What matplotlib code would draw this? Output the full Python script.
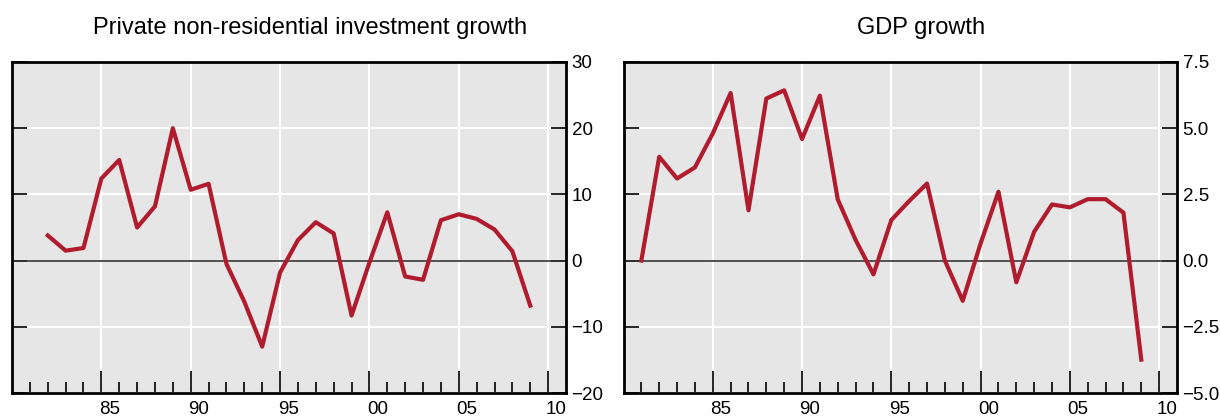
import matplotlib
matplotlib.use("Agg")
import matplotlib.pyplot as plt
from matplotlib.transforms import ScaledTranslation

plt.rcParams['font.family'] = ['Liberation Sans', 'DejaVu Sans']

# Data (annual growth, %)
inv_years = list(range(1982, 2010))
inv_growth = [3.8, 1.5, 1.9, 12.4, 15.2, 5.0, 8.2, 20.0, 10.7, 11.6,
              -0.5, -6.2, -13.0, -1.8, 3.1, 5.8, 4.1, -8.3, -0.3, 7.3,
              -2.4, -2.9, 6.1, 7.0, 6.3, 4.7, 1.4, -6.8]

gdp_years = list(range(1981, 2010))
gdp_growth = [0.0, 3.92, 3.1, 3.52, 4.8, 6.33, 1.9, 6.12, 6.43, 4.59,
              6.23, 2.31, 0.78, -0.52, 1.53, 2.25, 2.91, 0.0, -1.52, 0.65,
              2.6, -0.82, 1.09, 2.12, 2.01, 2.32, 2.32, 1.81, -3.74]

titles = ["Private non-residential investment growth", "GDP growth"]
major_years = [1985, 1990, 1995, 2000, 2005, 2010]
year_labels = ["85", "90", "95", "00", "05", "10"]
minor_years = list(range(1981, 2011))
inv_yticks = [-20, -10, 0, 10, 20, 30]
inv_ylabels = ["\u221220", "\u221210", "0", "10", "20", "30"]
gdp_yticks = [-5.0, -2.5, 0.0, 2.5, 5.0, 7.5]
gdp_ylabels = ["\u22125.0", "\u22122.5", "0.0", "2.5", "5.0", "7.5"]

LINE_COLOR = "#b01c2e"
BG = "#e6e6e6"


def style_panel(ax, yticks, ylabels):
    ax.set_facecolor(BG)
    ax.set_xlim(1980, 2011)
    ax.set_ylim(yticks[0], yticks[-1])
    for sp in ax.spines.values():
        sp.set_linewidth(2.0)
        sp.set_color("black")
    ax.set_xticks(major_years)
    ax.set_xticklabels(year_labels, fontsize=13.5)
    ax.set_xticks(minor_years, minor=True)
    ax.tick_params(axis="x", which="major", direction="in", length=16, width=1.2,
                   pad=6, top=False)
    ax.tick_params(axis="x", which="minor", direction="in", length=8, width=1.2,
                   top=False)
    # year labels sit in the middle of the year
    off = ScaledTranslation(8 / 100, 0, ax.figure.dpi_scale_trans)
    for lab in ax.get_xticklabels():
        lab.set_transform(lab.get_transform() + off)
    ax.set_yticks(yticks)
    ax.set_yticklabels(ylabels, fontsize=13.5)
    ax.tick_params(axis="y", direction="in", length=11, width=1.2, pad=4,
                   left=True, right=True, labelleft=False, labelright=True)
    ax.grid(True, which="major", color="white", linewidth=1.5)
    ax.set_axisbelow(True)
    ax.axhline(0, color="#333333", linewidth=1.2, zorder=2)


fig = plt.figure(figsize=(12.2, 4.2), dpi=100)
ax1 = fig.add_axes([12 / 1220, 27 / 420, 554 / 1220, 331 / 420])
ax2 = fig.add_axes([623.5 / 1220, 27 / 420, 553.5 / 1220, 331 / 420])

style_panel(ax1, inv_yticks, inv_ylabels)
style_panel(ax2, gdp_yticks, gdp_ylabels)

ax1.plot(inv_years, inv_growth, color=LINE_COLOR, linewidth=3.0, zorder=3)
ax2.plot(gdp_years, gdp_growth, color=LINE_COLOR, linewidth=3.0, zorder=3)

fig.text(310 / 1220, 1 - 28 / 420, titles[0], ha="center", va="center", fontsize=17)
fig.text(921 / 1220, 1 - 28 / 420, titles[1], ha="center", va="center", fontsize=17)

fig.savefig("out.png", dpi=100)
